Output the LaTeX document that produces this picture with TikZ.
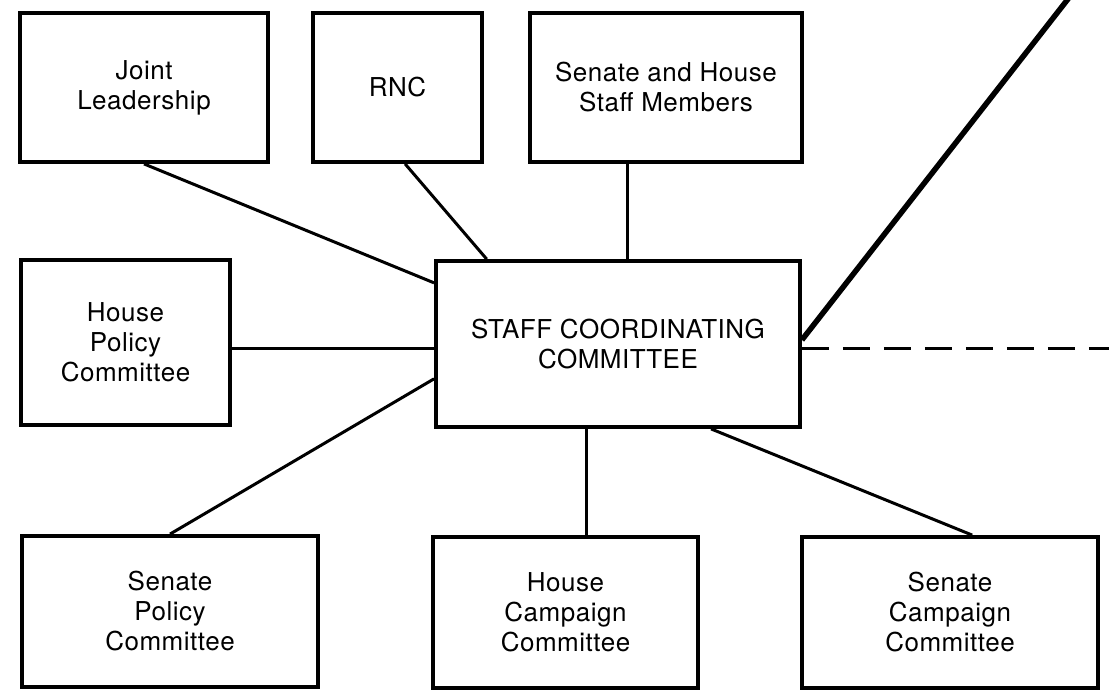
\documentclass[tikz,border=0pt]{standalone}
\usepackage{fontspec}
\setmainfont{TeX Gyre Heros}[LetterSpace=2]
\usetikzlibrary{calc}
\begin{document}
\begin{tikzpicture}[x=1pt,y=-1pt,
  box/.style={draw, line width=3.8pt, inner sep=0pt, align=center,
    font=\fontsize{26}{30}\selectfont},
  link/.style={line width=3pt},
  heavy/.style={line width=5.5pt},
  dashlink/.style={line width=3pt, dash pattern=on 27pt off 14pt}]
\useasboundingbox (0,0) rectangle (1109,695);
\clip (0,0) rectangle (1109,695);
% boxes
\node[box, minimum width=248pt, minimum height=149pt] (jl) at (144,87.5) {Joint\\Leadership};
\node[box, minimum width=169pt, minimum height=149pt] (rnc) at (397.5,87.5) {\raisebox{-4pt}{RNC}};
\node[box, minimum width=272pt, minimum height=149pt] (sh) at (666,87.5) {Senate and House\\Staff Members};
\node[box, minimum width=209pt, minimum height=165pt] (hp) at (125.5,342.5) {House\\Policy\\Committee};
\node[box, minimum width=364pt, minimum height=166pt] (sc) at (618,344) {STAFF COORDINATING\\COMMITTEE};
\node[box, minimum width=296pt, minimum height=151pt] (sp) at (170,611.5) {Senate\\Policy\\Committee};
\node[box, minimum width=265pt, minimum height=151pt] (hc) at (565.5,612.5) {House\\Campaign\\Committee};
\node[box, minimum width=296pt, minimum height=151pt] (scc) at (950,612.5) {Senate\\Campaign\\Committee};
% connectors
\draw[link] (jl.south) -- ($(sc.north west)!0.14!(sc.south west)$);
\draw[link] ($(rnc.south west)!0.544!(rnc.south east)$) -- ($(sc.north west)!0.143!(sc.north east)$);
\coordinate (shb) at ($(sh.south west)!0.36!(sh.south east)$);
\draw[link] (shb) -- (shb |- sc.north);
\coordinate (hpa) at ($(sc.north west)!0.524!(sc.south west)$);
\draw[link] (hpa -| hp.east) -- (hpa);
\draw[link] (sp.north) -- ($(sc.north west)!0.705!(sc.south west)$);
\coordinate (hcb) at ($(sc.south west)!0.413!(sc.south east)$);
\draw[link] (hcb) -- (hcb |- hc.north);
\draw[link] ($(sc.south west)!0.753!(sc.south east)$) -- ($(scc.north west)!0.574!(scc.north east)$);
\coordinate (topend) at (1075,-10);
\draw[heavy] ($(sc.north east)!0.476!(sc.south east)$) -- (topend);
\coordinate (dashstart) at ($(sc.north east)!0.524!(sc.south east)$);
\coordinate (dashend) at (1109,348);
\draw[dashlink] (dashstart) -- (dashend |- dashstart);
\end{tikzpicture}
\end{document}
